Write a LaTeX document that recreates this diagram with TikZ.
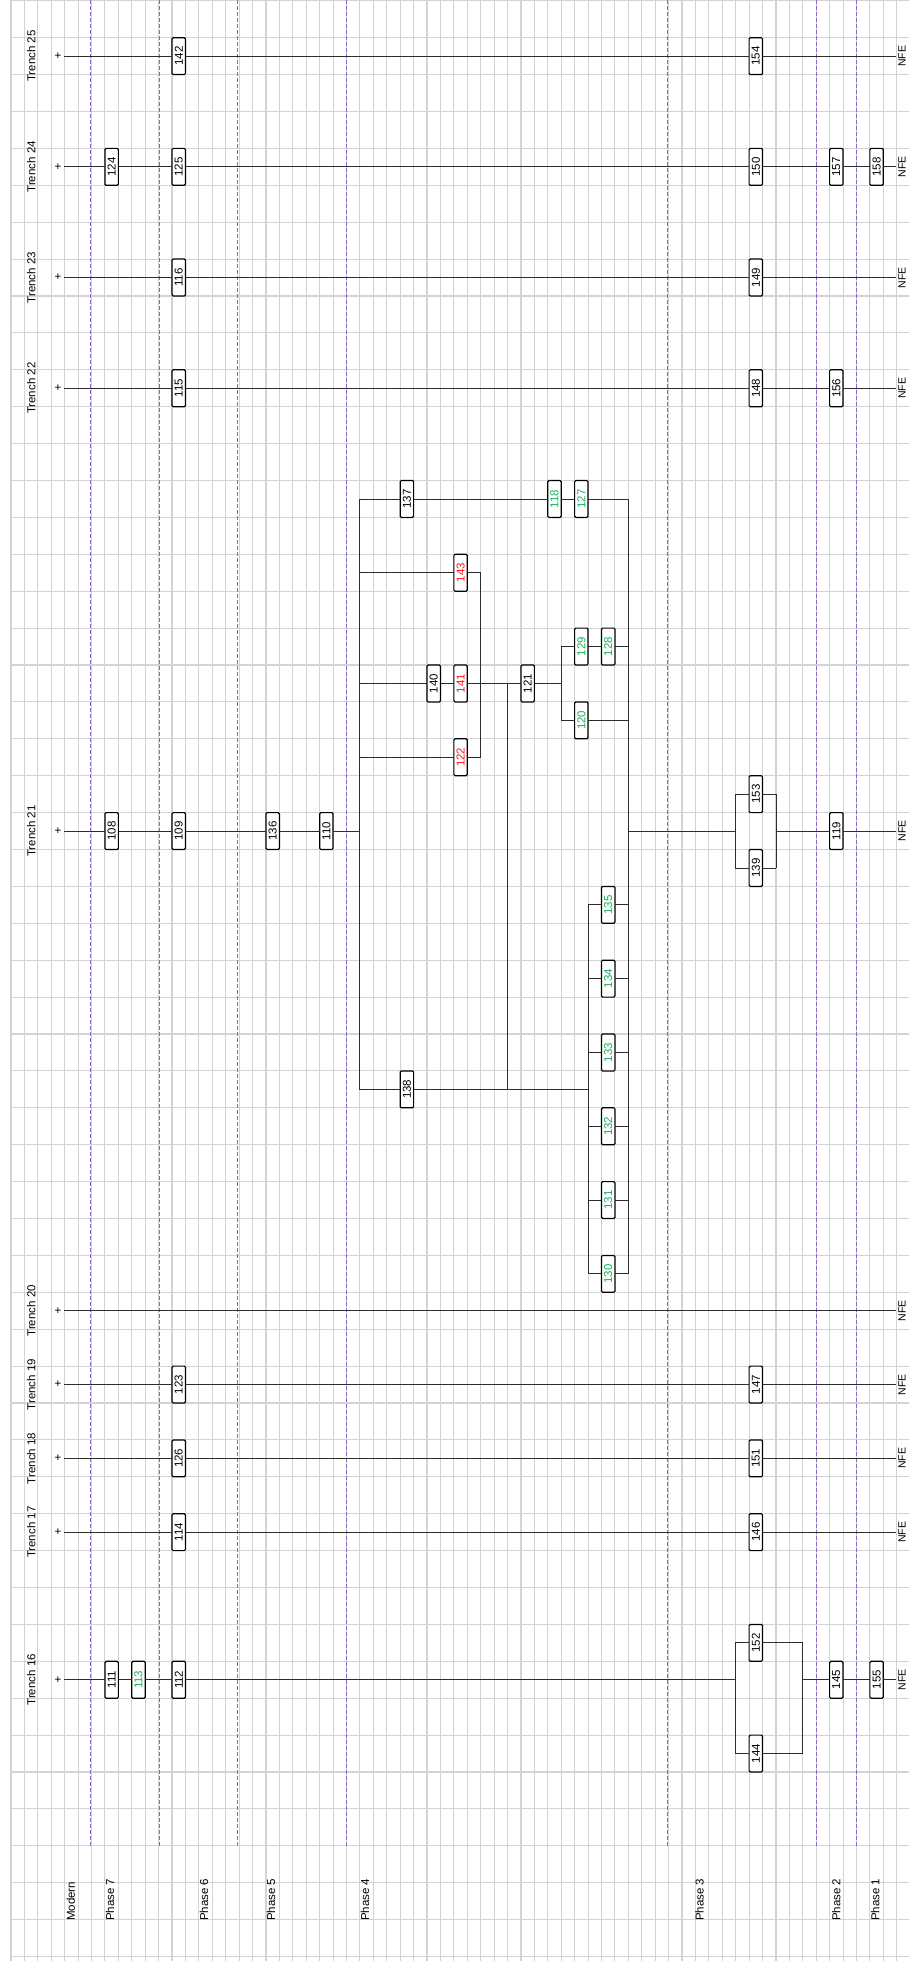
\documentclass[tikz,border=0pt]{standalone}
\usepackage{fontspec}
\setmainfont{Liberation Sans}
\usepackage{xcolor}
\usepackage{graphicx}
\usepackage{tikz}

\definecolor{gridgray}{RGB}{211,211,211}
\definecolor{phasepurple}{RGB}{140,100,200}
\definecolor{ctxgreen}{RGB}{20,180,90}
\definecolor{ctxred}{RGB}{255,20,20}
\definecolor{linkgray}{RGB}{45,45,45}

\tikzset{
  gridline/.style={gridgray, line width=1.1pt},
  phaseline/.style={phasepurple, line width=0.9pt, dash pattern=on 4pt off 2pt},
  link/.style={linkgray, line width=0.9pt, line cap=rect},
  unit/.style={draw=black, line width=1.2pt, fill=white, rounded corners=1.2pt,
    minimum width=13.42pt, minimum height=36.9pt, inner sep=0pt},
  redunit/.style={unit, text=ctxred},
  greenunit/.style={unit, text=ctxgreen},
  tag/.style={inner sep=0pt},
}

\begin{document}
\begin{tikzpicture}[x=13.42pt, y=-36.9pt, font=\fontsize{11.5}{13}\selectfont]

\path[fill=white, use as bounding box] (-11pt,0.8pt) rectangle (898pt,-1960.2pt);

% grid
\foreach \k in {0,...,66} \draw[gridline] (\k,-0.03) -- (\k,53.13);
\foreach \j in {0,...,53} \draw[gridline] (0,\j) -- (66.92,\j);

% phase boundaries
\foreach \x in {5.93,11.07,16.91,25.0,48.94,60.0,63.0}
  \draw[phaseline] (\x,-0.03) -- (\x,50);

\foreach \p/\x [count=\i] in {Modern/4.45,Phase 7/7.38,Phase 6/14.38,Phase 5/19.37,
    Phase 4/26.38,Phase 3/51.3,Phase 2/61.5,Phase 1/64.4}
  \node[tag, anchor=south] (ph\i) at (\x,52.04) {\rotatebox{90}{\p}};

% trenches
\foreach \t/\r in {25/1,24/4,23/7,22/10,21/22,20/35,19/37,18/39,17/41,16/45} {
  \node[tag] (tr\t) at (1.51,\r+.5) {\rotatebox{90}{Trench \t}};
  \node[tag, minimum width=13.42pt] (top\t) at (3.5,\r+.5) {+};
  \node[tag, minimum width=13.42pt, font=\fontsize{10.5}{12}\selectfont]
    (nfe\t) at (66.4,\r+.5) {\rotatebox{90}{NFE}};
}

% contexts
\foreach \n/\c/\r in {142/12/1,154/55/1,124/7/4,125/12/4,150/55/4,157/61/4,158/64/4,
    116/12/7,149/55/7,115/12/10,148/55/10,156/61/10,
    108/7/22,109/12/22,136/19/22,110/23/22,137/29/13,140/31/18,121/38/18,138/29/29,
    153/55/21,139/55/23,119/61/22,123/12/37,147/55/37,126/12/39,151/55/39,
    114/12/41,146/55/41,111/7/45,112/12/45,152/55/44,144/55/47,145/61/45,155/64/45}
  \node[unit] (u\n) at (\c+.5,\r+.5) {\rotatebox{90}{\n}};

\foreach \n/\c/\r in {143/33/15,141/33/18,122/33/20}
  \node[redunit] (u\n) at (\c+.5,\r+.5) {\rotatebox{90}{\n}};

\foreach \n/\c/\r in {118/40/13,127/42/13,129/42/17,128/44/17,120/42/19,
    135/44/24,134/44/26,133/44/28,132/44/30,131/44/32,130/44/34,113/9/45}
  \node[greenunit] (u\n) at (\c+.5,\r+.5) {\rotatebox{90}{\n}};

% junctions
\foreach \r in {13,15,18,20,22,29} \coordinate (a\r) at (26,\r+.5);
\foreach \r in {15,20} \coordinate (b\r) at (35,\r+.5);
\foreach \r in {18,29} \coordinate (c\r) at (37,\r+.5);
\foreach \r in {17,18,19} \coordinate (d\r) at (41,\r+.5);
\foreach \r in {13,17,19,22,24,26,28,30,32,34} \coordinate (e\r) at (46,\r+.5);
\foreach \r in {24,26,28,29,30,32,34} \coordinate (f\r) at (43,\r+.5);
\foreach \r in {21,22,23} {
  \coordinate (gl\r) at (54,\r+.5);
  \coordinate (gr\r) at (57,\r+.5);
}
\foreach \r in {44,45,47} {
  \coordinate (hl\r) at (54,\r+.5);
  \coordinate (hr\r) at (59,\r+.5);
}

% links
\draw[link] (top25) -- (u142) -- (u154) -- (nfe25);
\draw[link] (top24) -- (u124) -- (u125) -- (u150) -- (u157) -- (u158) -- (nfe24);
\draw[link] (top23) -- (u116) -- (u149) -- (nfe23);
\draw[link] (top22) -- (u115) -- (u148) -- (u156) -- (nfe22);

\draw[link] (top21) -- (u108) -- (u109) -- (u136) -- (u110) -- (a22);
\draw[link] (a13) -- (a29);
\draw[link] (a13) -- (u137) -- (u118) -- (u127) -- (e13);
\draw[link] (a15) -- (u143) -- (b15) -- (b20) -- (u122) -- (a20);
\draw[link] (a18) -- (u140) -- (u141) -- (u121) -- (d18);
\draw[link] (c18) -- (c29);
\draw[link] (a29) -- (u138) -- (f29);
\draw[link] (d17) -- (d19);
\draw[link] (d17) -- (u129) -- (u128) -- (e17);
\draw[link] (d19) -- (u120) -- (e19);
\draw[link] (e13) -- (e34);
\draw[link] (f24) -- (f34);
\foreach \n/\r in {135/24,134/26,133/28,132/30,131/32,130/34}
  \draw[link] (f\r) -- (u\n) -- (e\r);
\draw[link] (e22) -- (gl22);
\draw[link] (gl21) -- (gl23);
\draw[link] (gr21) -- (gr23);
\draw[link] (gl21) -- (u153) -- (gr21);
\draw[link] (gl23) -- (u139) -- (gr23);
\draw[link] (gr22) -- (u119) -- (nfe21);

\draw[link] (top20) -- (nfe20);
\draw[link] (top19) -- (u123) -- (u147) -- (nfe19);
\draw[link] (top18) -- (u126) -- (u151) -- (nfe18);
\draw[link] (top17) -- (u114) -- (u146) -- (nfe17);

\draw[link] (top16) -- (u111) -- (u113) -- (u112) -- (hl45);
\draw[link] (hl44) -- (hl47);
\draw[link] (hr44) -- (hr47);
\draw[link] (hl44) -- (u152) -- (hr44);
\draw[link] (hl47) -- (u144) -- (hr47);
\draw[link] (hr45) -- (u145) -- (u155) -- (nfe16);

\end{tikzpicture}
\end{document}
